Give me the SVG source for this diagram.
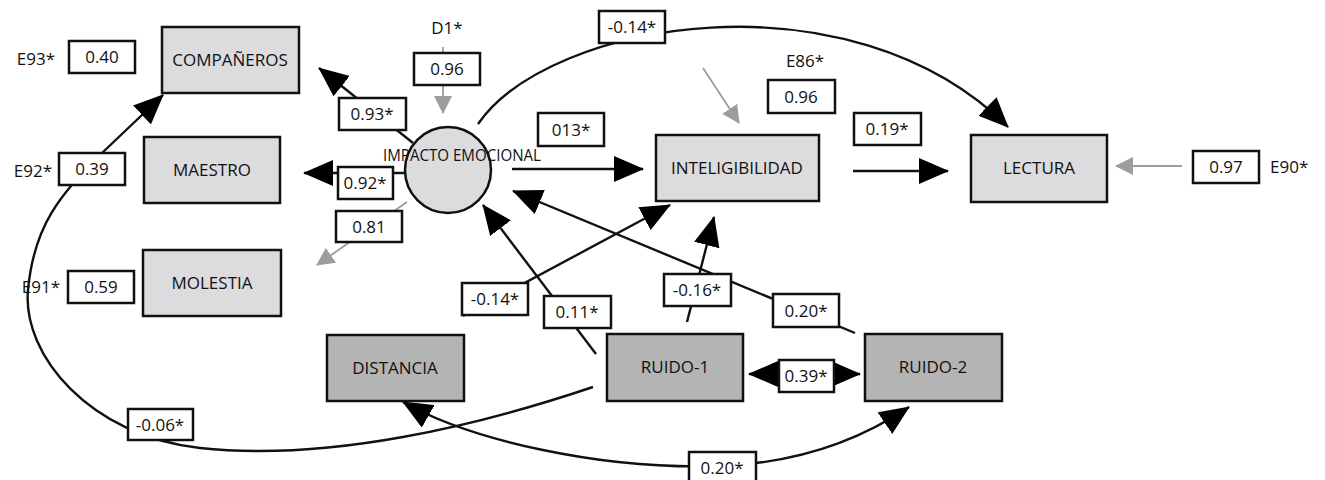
<svg xmlns="http://www.w3.org/2000/svg" width="1325" height="480" viewBox="0 0 1325 480">
<style>
text{font-family:"Open Sans","Liberation Sans",sans-serif;fill:#111;}
.t{font-size:17px;text-anchor:middle;}
.e{font-size:17px;}
.node{fill:#dcdcde;stroke:#111;stroke-width:2.5;}
.dark{fill:#b4b4b4;stroke:#111;stroke-width:2.5;}
.lbl{fill:#fff;stroke:#111;stroke-width:2.5;}
.ln{fill:none;stroke:#111;stroke-width:2.4;}
.gl{fill:none;stroke:#9d9d9d;stroke-width:1.8;}
</style>
<defs>
<marker id="ah" markerUnits="userSpaceOnUse" markerWidth="30" markerHeight="26" viewBox="0 0 30 26" refX="29" refY="13" orient="auto-start-reverse"><path d="M0,0 L30,13 L0,26 z" fill="#000"/></marker>
<marker id="ag" markerUnits="userSpaceOnUse" markerWidth="18" markerHeight="18" viewBox="0 0 18 18" refX="17" refY="9" orient="auto"><path d="M0,0 L18,9 L0,18 z" fill="#9d9d9d"/></marker>
</defs>

<g id="connectors">
  <line class="gl" x1="443" y1="47" x2="443" y2="113" marker-end="url(#ag)"/>
  <line class="gl" x1="703" y1="68" x2="739" y2="123" marker-end="url(#ag)"/>
  <line class="gl" x1="1182" y1="166" x2="1116" y2="166" marker-end="url(#ag)"/>
  <line class="gl" x1="407" y1="202" x2="317" y2="265" marker-end="url(#ag)"/>
  <line class="ln" x1="413" y1="143" x2="319" y2="68" marker-end="url(#ah)"/>
  <line class="ln" x1="405" y1="173" x2="304" y2="173" marker-end="url(#ah)"/>
  <line class="ln" x1="512" y1="169" x2="643" y2="169" marker-end="url(#ah)"/>
  <line class="ln" x1="853" y1="171" x2="948" y2="171" marker-end="url(#ah)"/>
  <path class="ln" d="M478,124 C550,20 850,-30 1008,127" marker-end="url(#ah)"/>
  <line class="ln" x1="596" y1="354" x2="483" y2="205" marker-end="url(#ah)"/>
  <line class="ln" x1="463" y1="316" x2="670" y2="205" marker-end="url(#ah)"/>
  <line class="ln" x1="687" y1="322" x2="714" y2="217" marker-end="url(#ah)"/>
  <line class="ln" x1="855" y1="333" x2="513" y2="191" marker-end="url(#ah)"/>
  <line class="ln" x1="749" y1="374" x2="860" y2="374" marker-start="url(#ah)" marker-end="url(#ah)"/>
  <path class="ln" d="M593,387 C480,425 330,462 200,448 C90,436 22,355 28,290 C34,225 60,195 102,153 L163,95" marker-end="url(#ah)"/>
  <path class="ln" d="M403,402 C470,440 600,470 720,466 C800,463 860,440 909,407" marker-start="url(#ah)" marker-end="url(#ah)"/>

  <g id="lbl-e93"><text class="e" x="55" y="65" text-anchor="end">E93*</text><rect class="lbl" x="69" y="41" width="66" height="32"/><text class="t" x="102" y="63">0.40</text></g>
  <g id="lbl-e92"><text class="e" x="52" y="177" text-anchor="end">E92*</text><rect class="lbl" x="59" y="153" width="66" height="32"/><text class="t" x="92" y="175">0.39</text></g>
  <g id="lbl-e91"><text class="e" x="60" y="293" text-anchor="end">E91*</text><rect class="lbl" x="68" y="271" width="66" height="32"/><text class="t" x="101" y="293">0.59</text></g>
  <g id="lbl-d1"><text class="t" x="447" y="34">D1*</text><rect class="lbl" x="414" y="53" width="66" height="32"/><text class="t" x="447" y="75">0.96</text></g>
  <g id="lbl-e86"><text class="t" x="805" y="67">E86*</text><rect class="lbl" x="768" y="80" width="67" height="33"/><text class="t" x="801" y="103">0.96</text></g>
  <g id="lbl-e90"><rect class="lbl" x="1193" y="151" width="66" height="32"/><text class="t" x="1226" y="173">0.97</text><text class="e" x="1270" y="173">E90*</text></g>
  <rect class="lbl" x="339" y="98" width="67" height="32"/><text class="t" x="372" y="120">0.93*</text>
  <rect class="lbl" x="338" y="167" width="55" height="32"/><text class="t" x="365" y="189">0.92*</text>
  <rect class="lbl" x="336" y="211" width="66" height="31"/><text class="t" x="369" y="233">0.81</text>
  <rect class="lbl" x="538" y="113" width="66" height="33"/><text class="t" x="571" y="136">013*</text>
  <rect class="lbl" x="599" y="11" width="66" height="32"/><text class="t" x="632" y="33">-0.14*</text>
  <rect class="lbl" x="854" y="113" width="67" height="32"/><text class="t" x="887" y="135">0.19*</text>
  <rect class="lbl" x="462" y="283" width="66" height="32"/><text class="t" x="495" y="305">-0.14*</text>
  <rect class="lbl" x="544" y="296" width="67" height="32"/><text class="t" x="577" y="318">0.11*</text>
  <rect class="lbl" x="664" y="274" width="67" height="32"/><text class="t" x="697" y="296">-0.16*</text>
  <rect class="lbl" x="773" y="294" width="66" height="33"/><text class="t" x="806" y="317">0.20*</text>
  <rect class="lbl" x="779" y="360" width="55" height="32"/><text class="t" x="806" y="382">0.39*</text>
  <rect class="lbl" x="128" y="409" width="65" height="31"/><text class="t" x="160" y="431">-0.06*</text>
  <rect class="lbl" x="689" y="452" width="67" height="31"/><text class="t" x="722" y="474">0.20*</text>
</g>

<g id="companeros"><rect class="node" x="162" y="27" width="137" height="66"/><text class="t" x="230" y="66">COMPAÑEROS</text></g>
<g id="maestro"><rect class="node" x="144" y="137" width="136" height="66"/><text class="t" x="212" y="176">MAESTRO</text></g>
<g id="molestia"><rect class="node" x="143" y="250" width="138" height="66"/><text class="t" x="212" y="289">MOLESTIA</text></g>
<g id="impacto"><circle class="node" cx="448" cy="170" r="43"/><text x="383" y="161" font-size="16" textLength="158" lengthAdjust="spacingAndGlyphs">IMPACTO EMOCIONAL</text></g>
<g id="inteligibilidad"><rect class="node" x="656" y="135" width="163" height="66"/><text class="t" x="737" y="174">INTELIGIBILIDAD</text></g>
<g id="lectura"><rect class="node" x="971" y="135" width="136" height="67"/><text class="t" x="1039" y="174">LECTURA</text></g>
<g id="distancia"><rect class="dark" x="327" y="335" width="137" height="66"/><text class="t" x="395" y="374">DISTANCIA</text></g>
<g id="ruido1"><rect class="dark" x="607" y="334" width="136" height="67"/><text class="t" x="675" y="373">RUIDO-1</text></g>
<g id="ruido2"><rect class="dark" x="865" y="334" width="137" height="67"/><text class="t" x="933" y="373">RUIDO-2</text></g>
</svg>
